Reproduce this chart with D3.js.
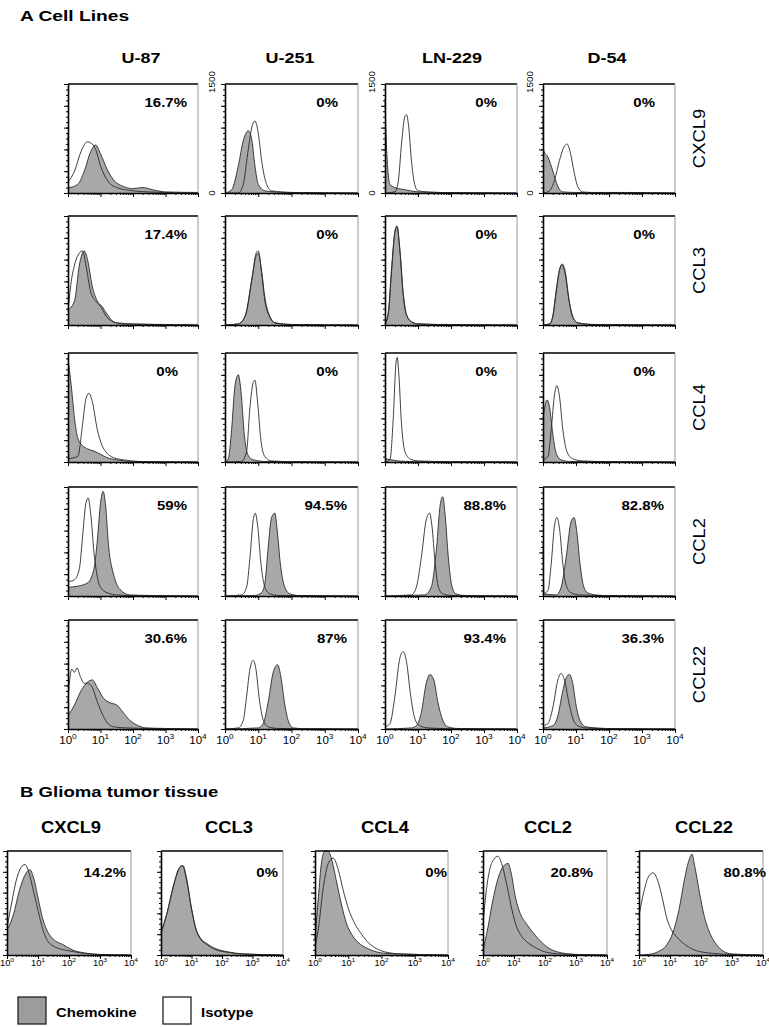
<!DOCTYPE html>
<html><head><meta charset="utf-8">
<script src="https://cdn.jsdelivr.net/npm/d3@7"></script>
<style>
body{margin:0;background:#fff}
svg{display:block}
text{font-family:"Liberation Sans",Arial,Helvetica,sans-serif;fill:#000}
</style>
</head><body>
<svg id="chart" width="769" height="1027"></svg>
<script>
// ---------------- DATA ----------------
const cellLines = ["U-87", "U-251", "LN-229", "D-54"];
const chemokines = ["CXCL9", "CCL3", "CCL4", "CCL2", "CCL22"];
const decadeExponents = ["0", "1", "2", "3", "4"];
const yAxisLabels = ["1500", "0"];
const legendLabels = ["Chemokine", "Isotype"];

// percent positive per chemokine row, columns = cellLines
const pctCXCL9 = ["16.7%", "0%", "0%", "0%"];
const pctCCL3  = ["17.4%", "0%", "0%", "0%"];
const pctCCL4  = ["0%", "0%", "0%", "0%"];
const pctCCL2  = ["59%", "94.5%", "88.8%", "82.8%"];
const pctCCL22 = ["30.6%", "87%", "93.4%", "36.3%"];

// histogram curves: [log10 fluorescence, % of full-scale count]
const cxcl9Chem = [
  [[0,55],[0.02,5],[0.3,8],[0.5,20],[0.7,38],[0.85,44],[1.0,36],[1.2,22],[1.4,12],[1.7,6],[2.0,4],[2.3,5],[2.6,3],[3,1],[4,0.5]],
  [[0,0],[0.2,3],[0.4,25],[0.55,48],[0.7,57],[0.8,50],[0.9,25],[1.0,8],[1.2,2],[1.5,1],[2,0.5],[4,0]],
  [[0,86],[0.05,40],[0.15,8],[0.3,5],[0.6,3],[1,1],[1.5,0.5],[4,0]],
  [[0,70],[0.02,39],[0.15,33],[0.3,20],[0.45,6],[0.6,1],[1,0.5],[4,0]]
];
const cxcl9Iso = [
  [[0,10],[0.2,20],[0.4,38],[0.6,47],[0.7,46],[0.85,40],[1.0,25],[1.2,12],[1.5,5],[2,2],[2.5,1],[3,0.5],[4,0]],
  [[0,0],[0.4,0],[0.55,8],[0.7,40],[0.82,62],[0.9,66],[1.0,55],[1.1,30],[1.25,8],[1.4,2],[2,0.5],[4,0]],
  [[0,0],[0.3,1],[0.4,10],[0.5,45],[0.6,70],[0.65,72],[0.72,60],[0.8,30],[0.9,8],[1.0,2],[1.3,1],[2,0.3],[4,0]],
  [[0,0],[0.2,2],[0.35,12],[0.5,30],[0.65,43],[0.73,45],[0.82,38],[0.95,18],[1.05,6],[1.2,1],[1.5,0.5],[2.5,0.5],[4,0]]
];
const ccl3Chem = [
  [[0,14],[0.2,22],[0.35,55],[0.5,68],[0.6,60],[0.75,35],[0.9,22],[1.05,17],[1.2,10],[1.4,3],[1.7,1],[2.5,0.5],[4,0]],
  [[0,0],[0.4,1],[0.6,8],[0.8,40],[0.93,63],[1.0,66],[1.1,50],[1.2,25],[1.35,8],[1.5,2],[2,0.5],[4,0]],
  [[0,1],[0.1,10],[0.2,50],[0.3,85],[0.37,90],[0.45,70],[0.55,30],[0.65,10],[0.8,3],[1,1],[2,0.3],[4,0]],
  [[0,0],[0.2,1],[0.3,8],[0.4,30],[0.5,50],[0.58,56],[0.68,48],[0.78,25],[0.9,8],[1.05,2],[1.5,0.5],[4,0]]
];
const ccl3Iso = [
  [[0,12],[0.1,40],[0.2,55],[0.35,66],[0.45,68],[0.55,55],[0.7,30],[0.85,22],[1.0,17],[1.2,7],[1.5,2],[2,1],[3,0.5],[4,0]],
  [[0,0],[0.4,1],[0.62,9],[0.82,45],[0.95,67],[1.0,68],[1.1,48],[1.2,22],[1.35,7],[1.5,2],[2,0.5],[4,0]],
  [[0,1],[0.1,12],[0.2,52],[0.3,86],[0.36,91],[0.45,68],[0.55,28],[0.65,9],[0.8,3],[1,1],[2,0.3],[4,0]],
  [[0,0],[0.2,1],[0.3,9],[0.4,32],[0.5,51],[0.57,55],[0.67,47],[0.78,24],[0.9,7],[1.05,2],[1.5,0.5],[4,0]]
];
const ccl4Chem = [
  [[0,95],[0.1,70],[0.2,40],[0.3,22],[0.45,15],[0.6,12],[0.8,10],[1.0,7],[1.2,4],[1.5,2],[2,0.5],[4,0]],
  [[0,0],[0.1,3],[0.2,30],[0.3,70],[0.4,80],[0.48,65],[0.58,25],[0.7,6],[0.85,2],[1.2,0.5],[4,0]],
  [[0,3],[0.2,2],[0.4,1],[1,0.3],[4,0]],
  [[0,40],[0.05,50],[0.12,57],[0.2,50],[0.3,25],[0.4,8],[0.55,2],[0.8,0.5],[4,0]]
];
const ccl4Iso = [
  [[0,3],[0.3,5],[0.45,35],[0.55,58],[0.64,63],[0.75,55],[0.9,30],[1.05,15],[1.2,8],[1.4,4],[1.7,2],[2.2,0.5],[4,0]],
  [[0,0],[0.5,0.5],[0.65,10],[0.75,50],[0.85,73],[0.9,75],[0.98,55],[1.08,20],[1.2,5],[1.4,1],[2,0.3],[4,0]],
  [[0,0],[0.15,2],[0.25,40],[0.33,90],[0.37,96],[0.42,80],[0.5,35],[0.6,10],[0.75,3],[1,1],[2,0.3],[4,0]],
  [[0,2],[0.15,5],[0.25,30],[0.35,62],[0.42,70],[0.5,60],[0.6,30],[0.72,10],[0.9,3],[1.2,1],[2,0.3],[4,0]]
];
const ccl2Chem = [
  [[0,8],[0.3,9],[0.6,12],[0.8,25],[0.9,50],[1.0,85],[1.08,96],[1.15,85],[1.25,45],[1.4,20],[1.6,6],[1.9,1],[2.5,0.5],[4,0]],
  [[0,0],[0.9,0.5],[1.1,3],[1.2,12],[1.3,45],[1.4,72],[1.5,76],[1.57,60],[1.67,28],[1.8,8],[1.95,2],[2.2,0.5],[4,0]],
  [[0,0],[1.2,1],[1.4,8],[1.55,40],[1.68,85],[1.75,91],[1.82,75],[1.92,35],[2.02,10],[2.15,2],[2.4,0.5],[4,0]],
  [[0,50],[0.03,2],[0.4,1],[0.55,8],[0.7,35],[0.85,68],[0.94,72],[1.02,60],[1.12,30],[1.22,10],[1.35,3],[1.6,1],[2,0.3],[4,0]]
];
const ccl2Iso = [
  [[0,13],[0.2,15],[0.35,25],[0.45,55],[0.55,85],[0.62,90],[0.7,75],[0.8,40],[0.9,18],[1.0,8],[1.2,3],[1.5,1],[2,0.3],[4,0]],
  [[0,0],[0.5,1],[0.65,8],[0.75,35],[0.85,70],[0.91,76],[0.98,65],[1.08,30],[1.2,8],[1.35,2],[1.6,0.5],[4,0]],
  [[0,0],[0.8,1],[0.95,8],[1.1,35],[1.25,70],[1.35,76],[1.42,65],[1.52,30],[1.62,8],[1.75,2],[2,0.5],[4,0]],
  [[0,2],[0.15,5],[0.25,30],[0.35,65],[0.42,72],[0.5,62],[0.6,30],[0.7,10],[0.85,3],[1.1,1],[2,0.3],[4,0]]
];
const ccl22Chem = [
  [[0,12],[0.2,22],[0.4,35],[0.6,43],[0.75,45],[0.9,38],[1.1,28],[1.3,24],[1.5,22],[1.7,15],[1.9,8],[2.1,4],[2.4,1],[3,0.5],[4,0]],
  [[0,0],[1.0,1],[1.15,5],[1.3,25],[1.45,52],[1.58,59],[1.68,48],[1.8,22],[1.92,6],[2.05,1],[2.4,0.3],[4,0]],
  [[0,0],[0.8,1],[0.95,3],[1.1,15],[1.25,42],[1.36,50],[1.48,45],[1.6,25],[1.75,8],[1.9,2],[2.2,0.5],[4,0]],
  [[0,1],[0.3,3],[0.45,12],[0.6,35],[0.72,48],[0.8,50],[0.9,42],[1.0,22],[1.12,8],[1.3,2],[1.6,1],[2.2,0.3],[4,0]]
];
const ccl22Iso = [
  [[0,25],[0.05,45],[0.12,55],[0.2,52],[0.28,56],[0.38,48],[0.5,42],[0.6,42],[0.75,38],[0.9,25],[1.05,14],[1.2,6],[1.4,2],[1.8,1],[2.5,0.5],[4,0]],
  [[0,0],[0.4,1],[0.55,8],[0.65,30],[0.75,55],[0.85,63],[0.93,55],[1.03,28],[1.15,8],[1.3,2],[1.6,0.5],[4,0]],
  [[0,2],[0.15,5],[0.3,30],[0.45,65],[0.55,71],[0.65,62],[0.78,30],[0.9,10],[1.05,3],[1.3,1],[2,0.3],[4,0]],
  [[0,3],[0.15,5],[0.3,20],[0.45,45],[0.55,51],[0.65,45],[0.78,25],[0.9,10],[1.05,3],[1.3,1],[2,0.3],[4,0]]
];

// Glioma tumor tissue (section B), order = chemokines
const tissuePct = ["14.2%", "0%", "0%", "20.8%", "80.8%"];
const tissueChem = [
  [[0,24],[0.2,38],[0.4,62],[0.6,78],[0.74,82],[0.85,75],[1.0,55],[1.15,35],[1.3,23],[1.5,15],[1.8,10],[2.1,5],[2.5,2],[3,0.5],[4,0]],
  [[0,22],[0.2,40],[0.4,65],[0.6,83],[0.72,86],[0.85,72],[1.0,45],[1.15,25],[1.3,16],[1.5,11],[1.8,6],[2.2,3],[2.7,1],[4,0]],
  [[0,15],[0.1,55],[0.2,90],[0.3,100],[0.4,100],[0.5,92],[0.65,70],[0.8,48],[0.95,30],[1.1,20],[1.3,12],[1.6,6],[2,2],[2.5,1],[4,0]],
  [[0,5],[0.15,25],[0.3,50],[0.5,75],[0.65,85],[0.81,88],[0.9,80],[1.05,55],[1.2,40],[1.4,30],[1.6,22],[1.8,15],[2.05,8],[2.4,3],[3,0.5],[4,0]],
  [[0,0],[0.3,0.5],[0.6,3],[0.9,10],[1.1,22],[1.3,45],[1.45,70],[1.6,90],[1.71,97],[1.8,85],[1.95,60],[2.1,38],[2.3,20],[2.5,10],[2.7,4],[3,1],[4,0]]
];
const tissueIso = [
  [[0,26],[0.15,50],[0.3,72],[0.45,84],[0.58,87],[0.7,80],[0.85,62],[1.0,43],[1.15,25],[1.3,14],[1.6,7],[2,4],[2.5,1.5],[3,0.5],[4,0]],
  [[0,21],[0.2,41],[0.4,66],[0.6,84],[0.7,86],[0.85,70],[1.0,44],[1.15,24],[1.3,15],[1.5,10],[1.8,5],[2.2,2.5],[2.7,1],[4,0]],
  [[0,8],[0.1,25],[0.25,65],[0.4,88],[0.55,93],[0.7,82],[0.85,62],[1.0,45],[1.2,30],[1.4,20],[1.6,12],[1.8,7],[2.1,3],[2.6,1],[4,0]],
  [[0,30],[0.08,55],[0.2,80],[0.35,92],[0.48,95],[0.6,88],[0.75,70],[0.9,48],[1.05,30],[1.2,20],[1.4,13],[1.7,7],[2,3],[2.5,1],[4,0]],
  [[0,38],[0.15,60],[0.3,75],[0.45,79],[0.6,72],[0.75,55],[0.9,35],[1.05,24],[1.2,18],[1.4,12],[1.7,6],[2,3],[2.4,1.5],[3,0.5],[4,0]]
];

const rowPct = [pctCXCL9, pctCCL3, pctCCL4, pctCCL2, pctCCL22];
const rowChem = [cxcl9Chem, ccl3Chem, ccl4Chem, ccl2Chem, ccl22Chem];
const rowIso = [cxcl9Iso, ccl3Iso, ccl4Iso, ccl2Iso, ccl22Iso];

// ---------------- LAYOUT ----------------
const svg = d3.select("#chart");
const FILL = "#a8a8a8", LINE = "#2a2a2a";

function txt(parent, x, y, s, size, weight, anchor, sx, rot) {
  return parent.append("text")
    .attr("transform", `translate(${x},${y}) rotate(${rot || 0}) scale(${sx || 1},1)`)
    .attr("text-anchor", anchor || "start")
    .style("font-size", size + "px")
    .style("font-weight", weight || "normal")
    .text(s);
}

function minorLogTicks() {
  const v = [];
  for (let d = 0; d < 4; d++) for (let k = 2; k <= 9; k++) v.push(k * Math.pow(10, d));
  return v;
}

function drawPanel(x0, x1, y0, y1, chem, iso, opts) {
  const g = svg.append("g");
  const x = d3.scaleLog().domain([1, 1e4]).range([x0, x1]);
  const y = d3.scaleLinear().domain([0, 100]).range([y1, y0]);
  const fx = d => x(Math.pow(10, d[0]));
  const area = d3.area().x(fx).y0(y1).y1(d => y(d[1])).curve(d3.curveMonotoneX);
  const line = d3.line().x(fx).y(d => y(d[1])).curve(d3.curveMonotoneX);

  g.append("path").datum(chem).attr("d", area).attr("fill", FILL);
  g.append("path").datum(chem).attr("d", line).attr("fill", "none").attr("stroke", LINE).attr("stroke-width", 0.9);
  g.append("path").datum(iso).attr("d", line).attr("fill", "none").attr("stroke", LINE).attr("stroke-width", 0.9);

  // frame: top black, right grey
  g.append("line").attr("x1", x0).attr("x2", x1).attr("y1", y0).attr("y2", y0)
    .attr("stroke", "#000").attr("stroke-width", 1.6);
  g.append("line").attr("x1", x1).attr("x2", x1).attr("y1", y0).attr("y2", y1)
    .attr("stroke", "#9a9a9a").attr("stroke-width", 1);

  // bottom axis (log) major + minor
  g.append("g").attr("transform", `translate(0,${y1})`)
    .call(d3.axisBottom(x).tickValues([1, 10, 100, 1000, 10000]).tickSize(4).tickSizeOuter(0).tickFormat(""));
  const bMin = g.append("g").attr("transform", `translate(0,${y1})`)
    .call(d3.axisBottom(x).tickValues(minorLogTicks()).tickSize(2).tickSizeOuter(0).tickFormat(""));
  bMin.select(".domain").remove();
  // left axis major + minor
  g.append("g").attr("transform", `translate(${x0},0)`)
    .call(d3.axisLeft(y).tickValues(d3.range(0, 101, 20)).tickSize(4).tickSizeOuter(0).tickFormat(""));
  const lMin = g.append("g").attr("transform", `translate(${x0},0)`)
    .call(d3.axisLeft(y).tickValues(d3.range(0, 101, 5)).tickSize(2).tickSizeOuter(0).tickFormat(""));
  lMin.select(".domain").remove();
  g.selectAll(".domain").attr("stroke", "#000").attr("stroke-width", 1.6);
  g.selectAll(".tick line").attr("stroke", "#000").attr("stroke-width", 1);

  if (opts.labels) {
    decadeExponents.forEach(e => {
      const t = g.append("text")
        .attr("transform", `translate(${x(Math.pow(10, +e))},${y1 + opts.labelDy}) scale(1.1,1)`)
        .attr("text-anchor", "middle")
        .style("font-size", opts.labelSize + "px");
      t.append("tspan").text("10");
      t.append("tspan").attr("dy", -opts.supRaise).style("font-size", (opts.labelSize * 0.72) + "px").text(e);
    });
  }
  if (opts.yLabels) {
    txt(g, x0 - 10, y0 - 2, yAxisLabels[0], 9, "normal", "middle", 1.1, -90);
    txt(g, x0 - 10, y1, yAxisLabels[1], 9, "normal", "middle", 1.1, -90);
  }
  return { x, y };
}

// Section A
txt(svg, 20, 21, "A Cell Lines", 15.5, "bold", "start", 1.24);
const colL = [68, 225, 385, 543];
const colR = [198, 358, 517, 675];
const rowTop = [84, 216, 353, 487, 620];
const panelH = 109;
const headerX = [141, 290, 452, 607];

cellLines.forEach((c, j) => txt(svg, headerX[j], 63, c, 15, "bold", "middle", 1.2));

chemokines.forEach((ck, i) => {
  const t = rowTop[i], b = t + panelH;
  cellLines.forEach((c, j) => {
    drawPanel(colL[j], colR[j], t, b, rowChem[i][j], rowIso[i][j], {
      labels: i === chemokines.length - 1, labelDy: 15, labelSize: 10.5, supRaise: 5,
      yLabels: i === 0 && j > 0
    });
    const p = rowPct[i][j];
    txt(svg, colR[j] - (p === "0%" ? 20 : 11), t + 23, p, 12.5, "bold", "end", 1.2);
  });
  txt(svg, 705, (t + b) / 2, ck, 16, "normal", "middle", 1.15, -90);
});

// Section B
txt(svg, 20, 797, "B Glioma tumor tissue", 15.5, "bold", "start", 1.2);
const tL = [7, 161, 315, 483, 639];
const tR = [131, 283, 448, 607, 763];
const tTop = 851, tBot = 955;
const tHeaderX = [71, 229, 385, 548, 704];
const tPctOff = [5, 5, 1, 14, -3];
chemokines.forEach((ck, i) => {
  drawPanel(tL[i], tR[i], tTop, tBot, tissueChem[i], tissueIso[i], {
    labels: true, labelDy: 11, labelSize: 8.5, supRaise: 4, yLabels: false
  });
  txt(svg, tHeaderX[i], 833, ck, 17, "bold", "middle", 1.08);
  txt(svg, tR[i] - tPctOff[i], 877, tissuePct[i], 12.5, "bold", "end", 1.2);
});

// Legend
const legX = [18, 163];
legendLabels.forEach((l, i) => {
  svg.append("rect").attr("x", legX[i]).attr("y", 997).attr("width", 28).attr("height", 27)
    .attr("fill", i === 0 ? "#9c9c9c" : "#fff").attr("stroke", "#222").attr("stroke-width", 1.3);
  txt(svg, legX[i] + 38, 1017, l, 13, "bold", "start", 1.15);
});
</script>
</body></html>
